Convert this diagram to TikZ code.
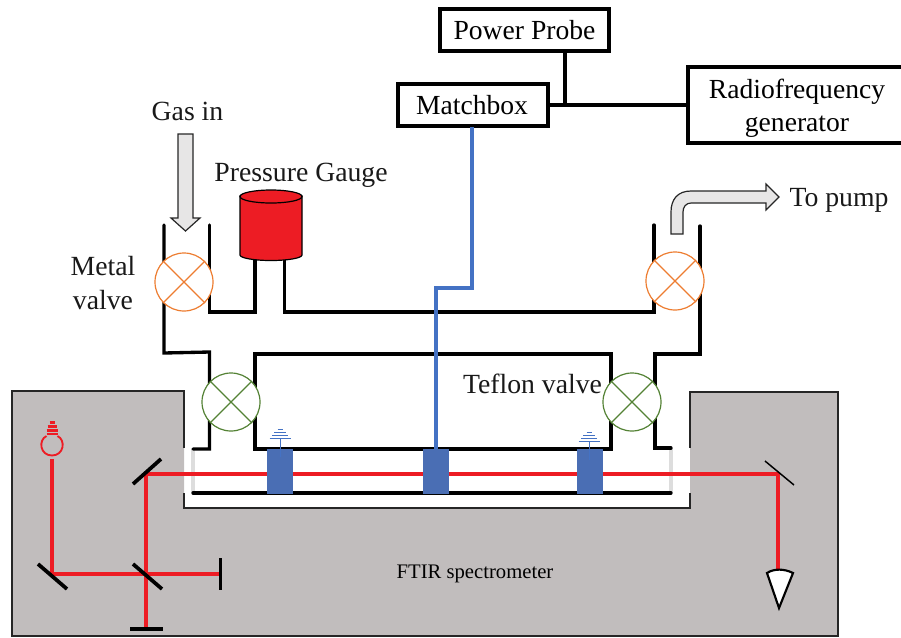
\documentclass[tikz,border=0pt]{standalone}
\usepackage{fontspec}
\setmainfont{Liberation Serif}
\definecolor{graybox}{HTML}{C1BDBD}
\definecolor{beam}{HTML}{ED1C24}
\definecolor{wire}{HTML}{4472C4}
\definecolor{cellblue}{HTML}{4A6EB4}
\definecolor{orangev}{HTML}{ED7D31}
\definecolor{greenv}{HTML}{548235}
\definecolor{arrowgray}{HTML}{E7E6E6}
\definecolor{windowgray}{HTML}{DDDDDD}
\tikzset{
  boxn/.style={draw=black,line width=3pt,inner sep=0pt,font=\fontsize{20.7}{24.5}\selectfont},
  lab/.style={inner sep=0pt,font=\fontsize{20.8}{25}\selectfont,align=center,text=black!90},
  tube/.style={draw=black,line width=2.5pt,line cap=round,line join=miter},
  beamline/.style={draw=beam,line width=2.8pt},
  mirror/.style={draw=black,line width=2.8pt},
  valvecirc/.style={circle,minimum size=43.5pt,inner sep=0pt,fill=white,line width=.9pt},
  orangevalve/.style={valvecirc,draw=orangev},
  greenvalve/.style={valvecirc,draw=greenv},
  blueblock/.style={fill=cellblue,draw=none},
  antbar/.style={draw=wire,line width=.7pt},
  fatarrow/.style={draw=black!85,line width=.9pt,fill=arrowgray,line join=miter},
  connector/.style={draw=black,line width=3pt},
  wireline/.style={draw=wire,line width=2.8pt,line join=miter}
}
\newcommand{\valvecross}[1]{%
  \draw[#1] (v.45) -- (v.225) (v.135) -- (v.315);}
\newcommand{\antenna}[2]{%
  \draw[antbar] (#1,#2) -- (#1,#2+19);
  \draw[antbar] (#1-10.5,#2) -- (#1+10.5,#2);
  \draw[antbar] (#1-8,#2-3) -- (#1+8,#2-3);
  \draw[antbar] (#1-6,#2-5.5) -- (#1+6,#2-5.5);
  \draw[antbar] (#1-2.5,#2-8.5) -- (#1+2.5,#2-8.5);}
\begin{document}
\begin{tikzpicture}[x=0.75pt,y=-0.75pt]
\useasboundingbox (0,0) rectangle (901,637);
% spectrometer body
\fill[graybox] (12,391) -- (184,391) -- (184,508) -- (690,508) -- (690,392) -- (838,392) -- (838,636) -- (12,636) -- cycle;
\draw[black!85,line width=.9pt] (184,448) -- (184,391) -- (12,391) -- (12,636) -- (838,636) -- (838,392) -- (690,392) -- (690,448);
\draw[black!85,line width=.9pt] (184,493) -- (184,508) -- (690,508) -- (690,493);
% windows
\draw[windowgray,line width=2.4pt] (193,449) -- (193,493);
\draw[windowgray,line width=2.4pt] (671,448) -- (671,493);
% tube walls
\draw[tube] (164,225) -- (164,353) -- (209.5,352) -- (209.5,449) -- (193,449);
\draw[tube] (209.5,225) -- (209.5,312) -- (255,312) -- (255,258);
\draw[tube] (284.5,258) -- (284.5,312) -- (654,312) -- (654,225);
\draw[tube] (700,226) -- (700,354) -- (655,354) -- (655,448) -- (671,448);
\draw[tube] (255,354) rectangle (611,449);
\draw[tube] (193,493) -- (671,493);
% gauge
\draw[fill=beam,draw=black,line width=.9pt] (240,196) -- (240,255) arc[start angle=180,end angle=0,x radius=31,y radius=5.5] -- (302,196) -- cycle;
\draw[fill=beam,draw=black,line width=.9pt] (271,196.5) ellipse[x radius=31,y radius=6.5];
% beams
\draw[beamline] (52,459) -- (52,574) -- (220,574);
\draw[beamline] (146,628) -- (146,474) -- (778,474) -- (778,571);
% blue blocks
\fill[blueblock] (267,449) rectangle (293,494);
\fill[blueblock] (423,449) rectangle (449,494);
\fill[blueblock] (577,449) rectangle (603,494);
\antenna{280}{438}
\antenna{589}{441}
% mirrors
\draw[mirror] (133,484) -- (161,459);
\draw[mirror] (133,564) -- (162,589);
\draw[mirror] (38,564) -- (67,589);
\draw[mirror] (220.5,558) -- (220.5,590);
\draw[mirror] (130,629) -- (163,629);
\draw[black,line width=1.1pt] (765,461) -- (794,485);
% detector
\draw[black,fill=white,line width=1.6pt,line join=miter] (779,608) -- (767,573) .. controls (774,568.5) and (784,568.5) .. (793,573) -- cycle;
% lamp
\draw[beam,line width=1.4pt] (46.5,436) .. controls (38,440) and (40,455.5) .. (52,455.5) .. controls (64,455.5) and (66,440) .. (57.5,436);
\draw[beam,line width=1.7pt] (46.5,434) -- (57.5,434) (46.5,430.5) -- (57.5,430.5) (47.5,426.5) -- (56.5,426.5) (49.5,422.5) -- (54.5,422.5);
% valves
\node[orangevalve] (v) at (184,282) {}; \valvecross{orangev,line width=.9pt}
\node[orangevalve] (v) at (675,281) {}; \valvecross{orangev,line width=.9pt}
\node[greenvalve] (v) at (231,402) {}; \valvecross{greenv,line width=.9pt}
\node[greenvalve] (v) at (632,402) {}; \valvecross{greenv,line width=.9pt}
% fat arrows
\draw[fatarrow] (178,134) -- (193,134) -- (193,218) -- (200,218) -- (185.5,231) -- (171,218) -- (178,218) -- cycle;
\draw[fatarrow] (671,234) -- (671,212) .. controls (671,199) and (678,191) .. (691,191) -- (766,191) -- (766,184) -- (779,197) -- (766,210) -- (766,203) -- (691,203) .. controls (686,203) and (683,207) .. (683,212) -- (683,234) -- cycle;
% boxes
\node[boxn,minimum width=127pt,minimum height=32pt] (pp) at (524.5,30) {Power Probe};
\node[boxn,minimum width=112pt,minimum height=32pt] (mb) at (473,105) {\hspace{-1.5pt}Matchbox};
\node[boxn,minimum width=163.5pt,minimum height=57pt,align=center] (rf) at (797,105) {\raisebox{-3pt}[14pt][5pt]{Radiofrequency}\\\raisebox{-3pt}[14pt][5pt]{generator}};
\coordinate (ppfoot) at ([xshift=30pt]pp.south);
\coordinate (junction) at (ppfoot |- mb.east);
\draw[connector] (ppfoot) -- (junction);
\draw[connector] (mb.east) -- (rf.west);
\coordinate (w1) at (472,288);
\coordinate (w2) at (436,288);
\coordinate (w3) at (436,449);
\draw[wireline] (472,127) -- (w1) -- (w2) -- (w3);
% labels
\node[lab] (gas) at (187.5,111) {Gas in};
\node[lab] (pg) at (301,175) {Pressure Gauge};
\node[lab] (mv) at (103,283) {Metal\\valve};
\node[lab] (tv) at (532.5,384) {Teflon valve};
\node[lab] (pump) at (839,200) {To pump};
\node[inner sep=0pt,font=\fontsize{15.5}{18}\selectfont] (ftir) at (475,574) {FTIR spectrometer};
\end{tikzpicture}
\end{document}
